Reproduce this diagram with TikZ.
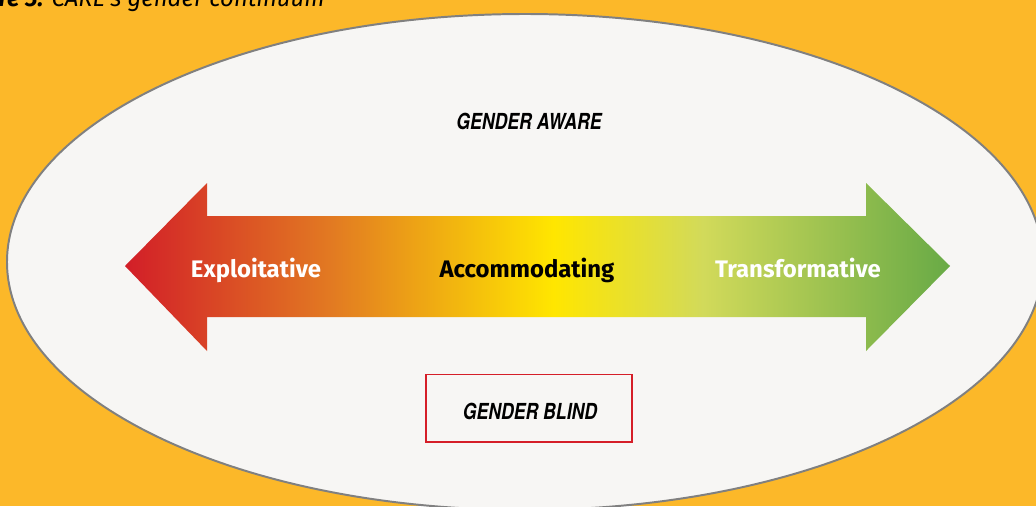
\documentclass[tikz,border=0pt]{standalone}
\usepackage{fontspec}
\setmainfont{Fira Sans}
\newfontfamily\heroscond[FakeStretch=0.8]{TeX Gyre Heros}
\definecolor{pageorange}{RGB}{252,184,41}
\definecolor{ovalfill}{RGB}{247,246,244}
\definecolor{ovalline}{RGB}{128,128,128}
\definecolor{blindred}{RGB}{213,30,40}
\definecolor{cred}{RGB}{210,30,40}
\definecolor{corange}{RGB}{226,122,34}
\definecolor{cyellow}{RGB}{255,230,0}
\definecolor{clime}{RGB}{210,218,90}
\definecolor{cgreen}{RGB}{104,170,70}
\pgfdeclarehorizontalshading{continuum}{100bp}{color(0bp)=(cred); color(25bp)=(cred);
  color(37.5bp)=(corange); color(51bp)=(cyellow); color(60bp)=(clime);
  color(75bp)=(cgreen); color(100bp)=(cgreen)}

\begin{document}
\begin{tikzpicture}[x=0.025cm,y=-0.025cm,
   arrow label/.style={anchor=base,font=\fontsize{17}{20}\selectfont\bfseries},
   gender label/.style={anchor=base,font=\heroscond\fontsize{15.7}{18}\selectfont\bfseries\itshape}]
\useasboundingbox (0,0) rectangle (1036,506);
\clip (0,0) rectangle (1036,506);
\fill[pageorange] (0,0) rectangle (1036,506);
\node[anchor=base east,inner sep=0pt,font=\fontsize{17}{20}\selectfont\itshape] (caption) at (325,7)
   {\textbf{Figure 3:} CARE's gender continuum};
\draw[ovalline,line width=1.4pt,fill=ovalfill] (525,262) ellipse [x radius=518, y radius=248];
\shade[shading=continuum] (125,266) -- (207,183) -- (207,216) -- (866,216) -- (866,183)
   -- (950,266) -- (866,351) -- (866,317) -- (207,317) -- (207,351) -- cycle;
\node[gender label] (aware) at (529,129) {GENDER AWARE};
\node[arrow label,white] (exploit) at (256,277) {Exploitative};
\node[arrow label] (accom) at (527,277) {Accommodating};
\node[arrow label,white] (transform) at (798,277) {Transformative};
\node[draw=blindred,line width=1.4pt,minimum width=5.15cm,minimum height=1.675cm] (blindbox) at (529,408) {};
\node[gender label] (blind) at (530,419) {GENDER BLIND};
\end{tikzpicture}
\end{document}
